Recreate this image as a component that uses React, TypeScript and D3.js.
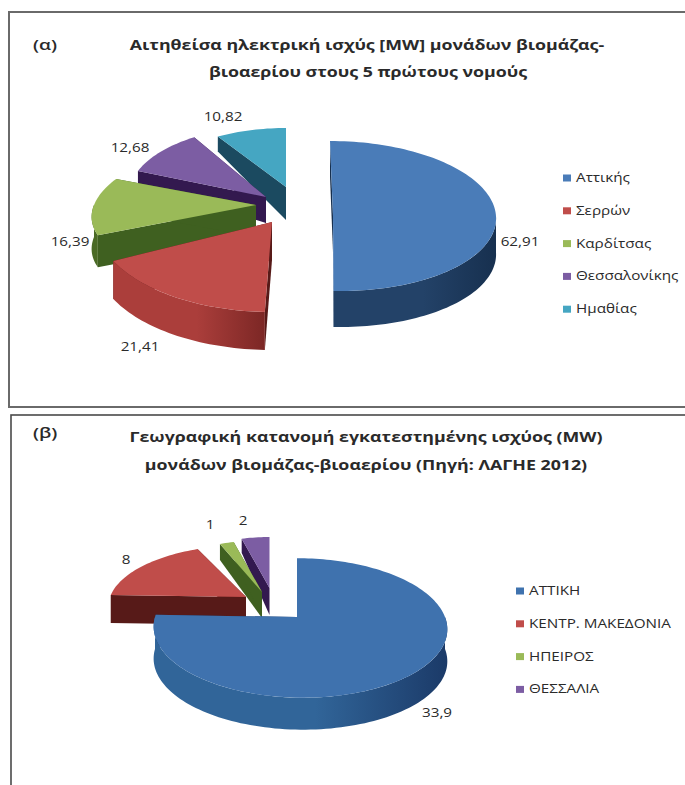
import React from "react";
import * as d3 from "d3";

// Panel (α): requested electrical capacity
const alphaCategories = ["Αττικής", "Σερρών", "Καρδίτσας", "Θεσσαλονίκης", "Ημαθίας"];
const alphaValues = [62.91, 21.41, 16.39, 12.68, 10.82];
// Panel (β): installed capacity by region
const betaCategories = ["ΑΤΤΙΚΗ", "ΚΕΝΤΡ. ΜΑΚΕΔΟΝΙΑ", "ΗΠΕΙΡΟΣ", "ΘΕΣΣΑΛΙΑ"];
const betaValues = [33.9, 8, 1, 2];

const alphaTitle = ["Αιτηθείσα ηλεκτρική ισχύς [MW] μονάδων βιομάζας-", "βιοαερίου στους 5 πρώτους νομούς"];
const betaTitle = ["Γεωγραφική κατανομή εγκατεστημένης ισχύος (MW)", "μονάδων βιομάζας-βιοαερίου (Πηγή: ΛΑΓΗΕ 2012)"];

const FONT = "'Open Sans', 'Noto Sans', sans-serif";
const STRETCH = 1.27;

type Tone = { top: string; wallL: string; wallR: string; side: string };
const palette: Record<string, Tone> = {
  blueA: { top: "#4a7cb8", wallL: "#234268", wallR: "#17304f", side: "#17304f" },
  blueB: { top: "#3f72ae", wallL: "#316599", wallR: "#1b3a68", side: "#1b3a68" },
  red: { top: "#c04d4a", wallL: "#ab3e3b", wallR: "#7c2725", side: "#571a18" },
  green: { top: "#9aba58", wallL: "#4a6a25", wallR: "#4a6a25", side: "#3f6020" },
  purple: { top: "#7c5da3", wallL: "#33194f", wallR: "#33194f", side: "#33194f" },
  teal: { top: "#45a6c2", wallL: "#1b4a60", wallR: "#1b4a60", side: "#1b4a60" },
};

// Each wedge is placed on its own in the exploded 3D view.
// depth is the wall height at the apex, rimDepth the height at the rim.
type Wedge = { cx: number; cy: number; rx: number; ry: number; p: number; lean: number; ax: number; depth: number; rimDepth: number; tone: Tone; lx: number; ly: number };

const alphaWedges: Wedge[] = [
  { cx: 335, cy: 216, rx: 161, ry: 75, p: 0, lean: -5, ax: -2, depth: 36, rimDepth: 36, tone: palette.blueA, lx: 520, ly: 242 },
  { cx: 272, cy: 222, rx: 176, ry: 90, p: 0, lean: 0, ax: 0, depth: 38, rimDepth: 38, tone: palette.red, lx: 140, ly: 347 },
  { cx: 256, cy: 205, rx: 162, ry: 70, p: 0, lean: 28, ax: 0, depth: 32, rimDepth: 32, tone: palette.green, lx: 70, ly: 242 },
  { cx: 266, cy: 197, rx: 138, ry: 70, p: 0, lean: 0, ax: 0, depth: 26, rimDepth: 13, tone: palette.purple, lx: 130, ly: 148 },
  { cx: 286, cy: 187, rx: 131, ry: 59, p: 0, lean: 0, ax: 0, depth: 33, rimDepth: 15, tone: palette.teal, lx: 223, ly: 117 },
];
const betaWedges: Wedge[] = [
  { cx: 300, cy: 617, rx: 145, ry: 68, p: 0.157, lean: -3, ax: -3, depth: 32, rimDepth: 32, tone: palette.blueB, lx: 437, ly: 713 },
  { cx: 246, cy: 597, rx: 136, ry: 60, p: 0.157, lean: 0, ax: 0, depth: 28, rimDepth: 28, tone: palette.red, lx: 126, ly: 560 },
  { cx: 262, cy: 592, rx: 118, ry: 60, p: 0.157, lean: 0, ax: 0, depth: 26, rimDepth: 16, tone: palette.green, lx: 210, ly: 525 },
  { cx: 269.5, cy: 588, rx: 116, ry: 59, p: 0.157, lean: 0, ax: 0, depth: 27, rimDepth: 14, tone: palette.purple, lx: 243, ly: 521 },
];

const pieAngles = d3.pie<number>().sort(null).startAngle(0).endAngle(2 * Math.PI);
const path = d3.line<[number, number]>();
const decimal = (v: number) => String(v).replace(".", ",");

function rimPoint(w: Wedge, t: number, drop = 0): [number, number] {
  const k = 1 + w.p * Math.cos(t);
  return [w.cx + (w.rx * Math.sin(t)) / k + w.lean * Math.cos(t), w.cy - (w.ry * Math.cos(t)) / k + drop];
}

function arcAngles(a0: number, a1: number): number[] {
  const n = Math.max(2, Math.ceil((a1 - a0) / 0.03));
  return d3.range(n + 1).map((i) => a0 + ((a1 - a0) * i) / n);
}

function WedgeShape({ w, a0, a1, id }: { w: Wedge; a0: number; a1: number; id: string }) {
  const apex: [number, number] = [w.cx + w.ax, w.cy];
  const apexLow: [number, number] = [apex[0], w.cy + w.depth];
  const face = (t: number) => path([apex, rimPoint(w, t), rimPoint(w, t, w.rimDepth), apexLow]) + "Z";
  // The outer wall only shows where the rim faces the viewer.
  const f0 = Math.max(a0, Math.PI / 2);
  const f1 = Math.min(a1, (3 * Math.PI) / 2);
  const hasWall = f1 > f0;
  const upper = hasWall ? arcAngles(f0, f1).map((t) => rimPoint(w, t)) : [];
  const lower = hasWall ? arcAngles(f0, f1).map((t) => rimPoint(w, t, w.rimDepth)).reverse() : [];
  const top = path([apex, ...arcAngles(a0, a1).map((t) => rimPoint(w, t))]) + "Z";
  return (
    <g>
      <defs>
        <linearGradient id={id} x1="0" x2="1" y1="0" y2="0">
          <stop offset="0" stopColor={w.tone.wallL} />
          <stop offset="0.55" stopColor={w.tone.wallL} />
          <stop offset="1" stopColor={w.tone.wallR} />
        </linearGradient>
      </defs>
      <path d={face(a0)} fill={w.tone.side} />
      <path d={face(a1)} fill={w.tone.side} />
      {hasWall && <path d={path([...upper, ...lower]) + "Z"} fill={`url(#${id})`} />}
      <path d={top} fill={w.tone.top} />
    </g>
  );
}

// Text is drawn wide: the glyphs are stretched horizontally around their anchor.
function WideText({ x, y, size, weight = 500, anchor = "start", children }: { x: number; y: number; size: number; weight?: number; anchor?: "start" | "middle"; children: React.ReactNode }) {
  return (
    <text transform={`translate(${x},${y}) scale(${STRETCH},1)`} fontSize={size} fontWeight={weight} textAnchor={anchor} fontFamily={FONT} fill="#2a2a2a">
      {children}
    </text>
  );
}

function Pie3D({ name, values, wedges }: { name: string; values: number[]; wedges: Wedge[] }) {
  const arcs = pieAngles(values);
  return (
    <g>
      {/* Painted from the back wedge forward, so the nearer ones overlap */}
      {arcs
        .map((a, i) => ({ a, w: wedges[i], i }))
        .reverse()
        .map(({ a, w, i }) => (
          <WedgeShape key={i} w={w} a0={a.startAngle} a1={a.endAngle} id={`${name}-wall-${i}`} />
        ))}
      {values.map((v, i) => (
        <WideText key={i} x={wedges[i].lx} y={wedges[i].ly + 4} size={12} weight={500} anchor="middle">
          {decimal(v)}
        </WideText>
      ))}
    </g>
  );
}

function Legend({ labels, tones, x, y, step, textX }: { labels: string[]; tones: Tone[]; x: number; y: number; step: number; textX: number }) {
  return (
    <g>
      {labels.map((l, i) => (
        <g key={l}>
          <rect x={x} y={y + i * step - 3.5} width={8} height={7} fill={tones[i].top} />
          <WideText x={textX} y={y + i * step + 4} size={12}>{l}</WideText>
        </g>
      ))}
    </g>
  );
}

function Title({ lines, cx, ys, tag, tagY }: { lines: string[]; cx: number[]; ys: number[]; tag: string; tagY: number }) {
  return (
    <g>
      <WideText x={33} y={tagY} size={15} weight={600}>{tag}</WideText>
      {lines.map((l, i) => (
        <WideText key={i} x={cx[i]} y={ys[i]} size={14} weight={700} anchor="middle">{l}</WideText>
      ))}
    </g>
  );
}

export default function App() {
  return (
    <svg width={685} height={785} style={{ position: "fixed", left: 0, top: 0, display: "block", background: "#fff" }}>
      <rect x={9} y={12} width={700} height={395} fill="#fff" stroke="#6a6a6a" strokeWidth={2} />
      <rect x={11} y={415} width={700} height={400} fill="#fff" stroke="#4a4a4a" strokeWidth={1.6} />

      <Title lines={alphaTitle} cx={[367, 368]} ys={[50, 77]} tag="(α)" tagY={50} />
      <Pie3D name="alpha" values={alphaValues} wedges={alphaWedges} />
      <Legend labels={alphaCategories} tones={alphaWedges.map((w) => w.tone)} x={563} y={178} step={32.8} textX={576} />

      <Title lines={betaTitle} cx={[366, 366]} ys={[442, 470]} tag="(β)" tagY={438} />
      <Pie3D name="beta" values={betaValues} wedges={betaWedges} />
      <Legend labels={betaCategories} tones={betaWedges.map((w) => w.tone)} x={516} y={591} step={32.8} textX={529} />
    </svg>
  );
}
